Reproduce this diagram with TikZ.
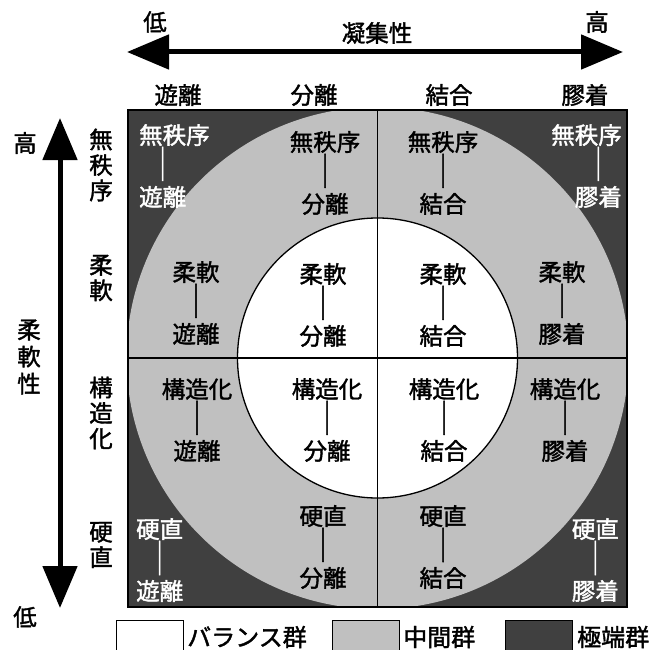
\documentclass[tikz,border=0pt]{standalone}
\usepackage{fontspec}
\setmainfont{Noto Sans CJK JP}[FakeBold=1.6]
\usetikzlibrary{arrows.meta}
\definecolor{darkgrp}{RGB}{64,64,64}
\definecolor{midgrp}{RGB}{192,192,192}
\newcommand{\vbarsym}{\scalebox{1.1}[1.45]{｜}}
\begin{document}
\begin{tikzpicture}[x=1pt,y=-1pt,
  lbl/.style={font=\fontsize{23.5}{29}\selectfont, inner sep=0pt, align=center},
  wlbl/.style={lbl, text=white},
  axlbl/.style={font=\fontsize{23.5}{25.5}\selectfont, inner sep=0pt, align=center},
  leglbl/.style={font=\fontsize{24}{28}\selectfont, inner sep=0pt, anchor=west},
  bigarrow/.style={line width=5pt, {Triangle[length=42pt,width=34pt]}-{Triangle[length=42pt,width=34pt]}},
  legbox/.style={draw=black, line width=1.2pt, minimum width=67pt, minimum height=40pt, inner sep=0pt, anchor=north west}
]
\useasboundingbox (0,0) rectangle (650,650);
% square with groups
\fill[darkgrp] (128,110) rectangle (627,607);
\begin{scope}
  \clip (128,110) rectangle (627,607);
  \fill[midgrp] (377.5,358) circle (251pt);
\end{scope}
\filldraw[fill=white, draw=black, line width=1.3pt] (377.5,358) circle (140pt);
\draw[line width=1.3pt] (377.5,110) -- (377.5,607);
\draw[line width=1.3pt] (128,358) -- (627,358);
\draw[line width=1.6pt] (128,110) rectangle (627,607);
% axes
\coordinate (hl) at (127,52);
\coordinate (hr) at (623,52);
\draw[bigarrow] (hl) -- (hr);
\coordinate (vt) at (60,118);
\coordinate (vb) at (60,608);
\draw[bigarrow] (vt) -- (vb);
\node[axlbl] (lowx) at (155,22) {低};
\node[axlbl] (highx) at (597,22) {高};
\node[axlbl] (cohesion) at (377,33) {凝集性};
\node[axlbl] (highy) at (25,143) {高};
\node[axlbl] (lowy) at (25,617) {低};
\node[axlbl, font=\fontsize{23.5}{27}\selectfont] (flex) at (29,357) {柔\\軟\\性};
% column headers
\node[axlbl] (h1) at (178,95) {遊離};
\node[axlbl] (h2) at (314,95) {分離};
\node[axlbl] (h3) at (449,95) {結合};
\node[axlbl] (h4) at (585,95) {膠着};
% row headers
\node[axlbl] (r1) at (101,165) {無\\秩\\序};
\node[axlbl] (r2) at (101,278) {柔\\軟};
\node[axlbl] (r3) at (101,413) {構\\造\\化};
\node[axlbl] (r4) at (101,545) {硬\\直};
% cells
\node[wlbl, align=left, anchor=west] (a1) at (139,166) {無秩序\\\makebox[47pt]{\vbarsym}\\遊離};
\node[lbl] (a2) at (196,303) {柔軟\\\vbarsym\\遊離};
\node[lbl] (a3) at (197,420) {構造化\\\vbarsym\\遊離};
\node[wlbl, anchor=west] (a4) at (136,560) {硬直\\\vbarsym\\遊離};
\node[lbl] (b1) at (325,173) {無秩序\\\vbarsym\\分離};
\node[lbl] (b2) at (323,305) {柔軟\\\vbarsym\\分離};
\node[lbl] (b3) at (327,420) {構造化\\\vbarsym\\分離};
\node[lbl] (b4) at (323,547) {硬直\\\vbarsym\\分離};
\node[lbl] (c1) at (443,173) {無秩序\\\vbarsym\\結合};
\node[lbl] (c2) at (443,305) {柔軟\\\vbarsym\\結合};
\node[lbl] (c3) at (444,420) {構造化\\\vbarsym\\結合};
\node[lbl] (c4) at (443,547) {硬直\\\vbarsym\\結合};
\node[wlbl, align=right, anchor=east] (d1) at (622,166) {無秩序\\\makebox[47pt]{\vbarsym}\\膠着};
\node[lbl] (d2) at (562,303) {柔軟\\\vbarsym\\膠着};
\node[lbl] (d3) at (565,420) {構造化\\\vbarsym\\膠着};
\node[wlbl, anchor=east] (d4) at (619,560) {硬直\\\vbarsym\\膠着};
% legend
\node[legbox, fill=white] (lb1) at (116,620) {};
\node[leglbl] (lt1) at (187,637) {バランス群};
\node[legbox, fill=midgrp] (lb2) at (332,620) {};
\node[leglbl] (lt2) at (403,637) {中間群};
\node[legbox, fill=darkgrp] (lb3) at (505,620) {};
\node[leglbl] (lt3) at (577,637) {極端群};
\end{tikzpicture}
\end{document}
